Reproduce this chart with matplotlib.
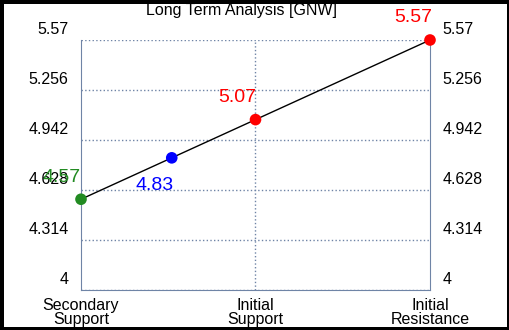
import numpy as np
import matplotlib.pyplot as plt
from matplotlib.transforms import ScaledTranslation

plt.rcParams['font.family'] = ['Liberation Sans', 'DejaVu Sans']

# 数据
categories = ['Secondary\nSupport', 'Initial\nSupport', 'Initial\nResistance']
point_x = [0, 0.52, 1, 2]
point_y = [4.57, 4.83, 5.07, 5.57]
point_labels = ['4.57', '4.83', '5.07', '5.57']
point_colors = ['#228B22', 'blue', 'red', 'red']
y_ticks = [4, 4.314, 4.628, 4.942, 5.256, 5.57]
y_ticklabels = ['4', '4.314', '4.628', '4.942', '5.256', '5.57']

axis_color = '#6F84A6'

fig = plt.figure(figsize=(5.1, 3.3), dpi=100, facecolor='white',
                 edgecolor='black', linewidth=5)
ax = fig.add_axes([81/510, 40/330, 349/510, 250/330])

# 连线
ax.plot([point_x[0], point_x[-1]], [point_y[0], point_y[-1]], color='black', lw=1, zorder=2)

# 点
for x, y, c in zip(point_x, point_y, point_colors):
    ax.scatter(x, y, s=70, color=c, zorder=3, edgecolors='none', clip_on=False)

# 标签 (偏移, 像素)
offsets = [(-19, 22), (-17, -28), (-18, 22), (-17, 22)]
for x, y, t, c, (dx, dy) in zip(point_x, point_y, point_labels, point_colors, offsets):
    ax.annotate(t, (x, y), xytext=(dx * 0.72, dy * 0.72), textcoords='offset points',
                color=c, fontsize=14, ha='center', va='center')

ax.set_xlim(0, 2)
ax.set_ylim(4, 5.57)
ax.set_xticks([0, 1, 2])
ax.set_xticklabels(categories, fontsize=11.5, linespacing=0.85)
ax.set_yticks(y_ticks)
ax.set_yticklabels(y_ticklabels, fontsize=11.5)
ax.tick_params(axis='y', length=0, labelright=True, pad=9)
ax.tick_params(axis='x', length=0, pad=6)

# y轴标签上移
shift = ScaledTranslation(0, 12/100, fig.dpi_scale_trans)
for t in ax.yaxis.get_major_ticks():
    t.label1.set_transform(t.label1.get_transform() + shift)
    t.label2.set_transform(t.label2.get_transform() + shift)

ax.grid(True, axis='y', linestyle=':', color=axis_color, lw=1)
ax.axvline(1, linestyle=':', color=axis_color, lw=1, zorder=1)

for s in ['left', 'right', 'bottom']:
    ax.spines[s].set_color(axis_color)
ax.spines['top'].set_visible(False)

fig.text(242/510, 1 - 10/330, 'Long Term Analysis [GNW]', ha='center', va='center', fontsize=11.5)

fig.savefig('out.png', dpi=100, facecolor=fig.get_facecolor(), edgecolor=fig.get_edgecolor())
